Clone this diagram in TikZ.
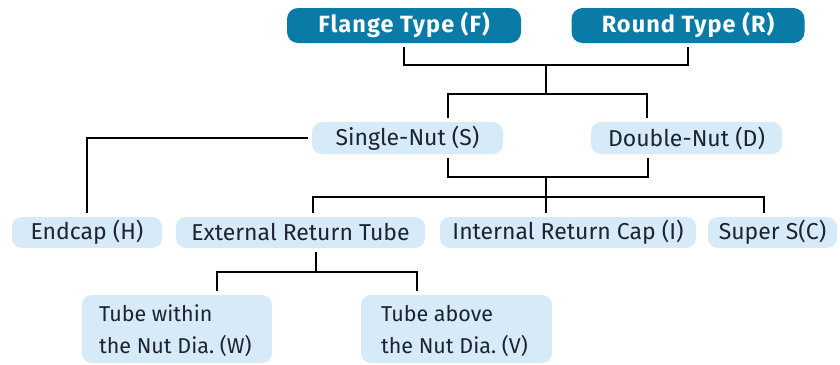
\documentclass[tikz,border=0pt]{standalone}
\usepackage{fontspec}
\setmainfont{Fira Sans}
\frenchspacing
\begin{document}
\begin{tikzpicture}[x=1pt,y=-1pt,
  topbox/.style={draw=none,fill=topblue,rounded corners=11pt,text=white,
    font=\fontsize{23.5}{26}\selectfont\bfseries\addfontfeatures{LetterSpace=4.5},minimum height=35pt,inner sep=0pt},
  midbox/.style={draw=none,fill=lightblue,rounded corners=10pt,text=txt,
    font=\fontsize{23}{26}\selectfont,minimum height=32pt,inner sep=0pt},
  lowbox/.style={draw=none,fill=lightblue,rounded corners=10pt,minimum height=68pt,inner sep=0pt},
  lowtext/.style={text=txt,font=\fontsize{21.5}{32}\selectfont,align=left,inner sep=0pt,anchor=west},
  conn/.style={draw=black,line width=1.9pt,shorten <=4pt,shorten >=4pt},
  link/.style={draw=black,line width=1.9pt}]
\definecolor{topblue}{HTML}{0A7BA7}
\definecolor{lightblue}{HTML}{D6EAF8}
\definecolor{txt}{HTML}{1C2331}
\useasboundingbox[fill=white] (0,0) rectangle (840,364);

\node[topbox,minimum width=234pt] (flange) at (404,25.5) {Flange Type (F)};
\node[topbox,minimum width=233pt] (round) at (688,25.5) {Round Type (R)};

\node[midbox,minimum width=191pt] (single) at (407.5,138) {Single-Nut (S)};
\node[midbox,minimum width=191pt] (double) at (686.5,138) {Double-Nut (D)};

\node[midbox,minimum width=150pt,minimum height=31pt] (endcap) at (87,232.5) {Endcap (H)};
\node[midbox,minimum width=249pt,minimum height=31pt] (external) at (300.5,232.5) {External Return Tube};
\node[midbox,minimum width=256pt,minimum height=31pt] (internal) at (568,232.5) {Internal Return Cap (I)};
\node[midbox,minimum width=129pt,minimum height=31pt] (super) at (772.5,232.5) {Super S(C)};

\node[lowbox,minimum width=190pt] (within) at (177,329) {};
\node[lowtext] (withintext) at ([xshift=17pt,yshift=-2pt]within.west) {Tube within\\the Nut Dia. (W)};
\node[lowbox,minimum width=191pt] (above) at (456.5,329) {};
\node[lowtext] (abovetext) at ([xshift=20pt,yshift=-2pt]above.west) {Tube above\\the Nut Dia. (V)};

\coordinate (j1) at (546,65);
\coordinate (j2) at (546,94);
\coordinate (j3) at (546,177);
\coordinate (j4) at (546,197);
\coordinate (j5) at (316,272);

\draw[conn] (flange.south) |- (j1) -| (round.south);
\draw[link] (j1) -- (j2);
\draw[conn] ([xshift=40.5pt]single.north) |- (j2) -| ([xshift=-39.5pt]double.north);

\draw[conn] (single.west) -| (endcap.north);
\draw[conn] ([xshift=40.5pt]single.south) |- (j3) -| ([xshift=-38.5pt]double.south);
\draw[conn,shorten <=0pt] (j3) -- (internal.north -| j3);
\draw[conn] ([xshift=12.5pt]external.north) |- (j4) -| ([xshift=-8.5pt]super.north);

\draw[conn,shorten >=0pt] ([xshift=15.5pt]external.south) -- (j5);
\draw[conn] ([xshift=40pt]within.north) |- (j5) -| ([xshift=-39.5pt]above.north);
\end{tikzpicture}
\end{document}
